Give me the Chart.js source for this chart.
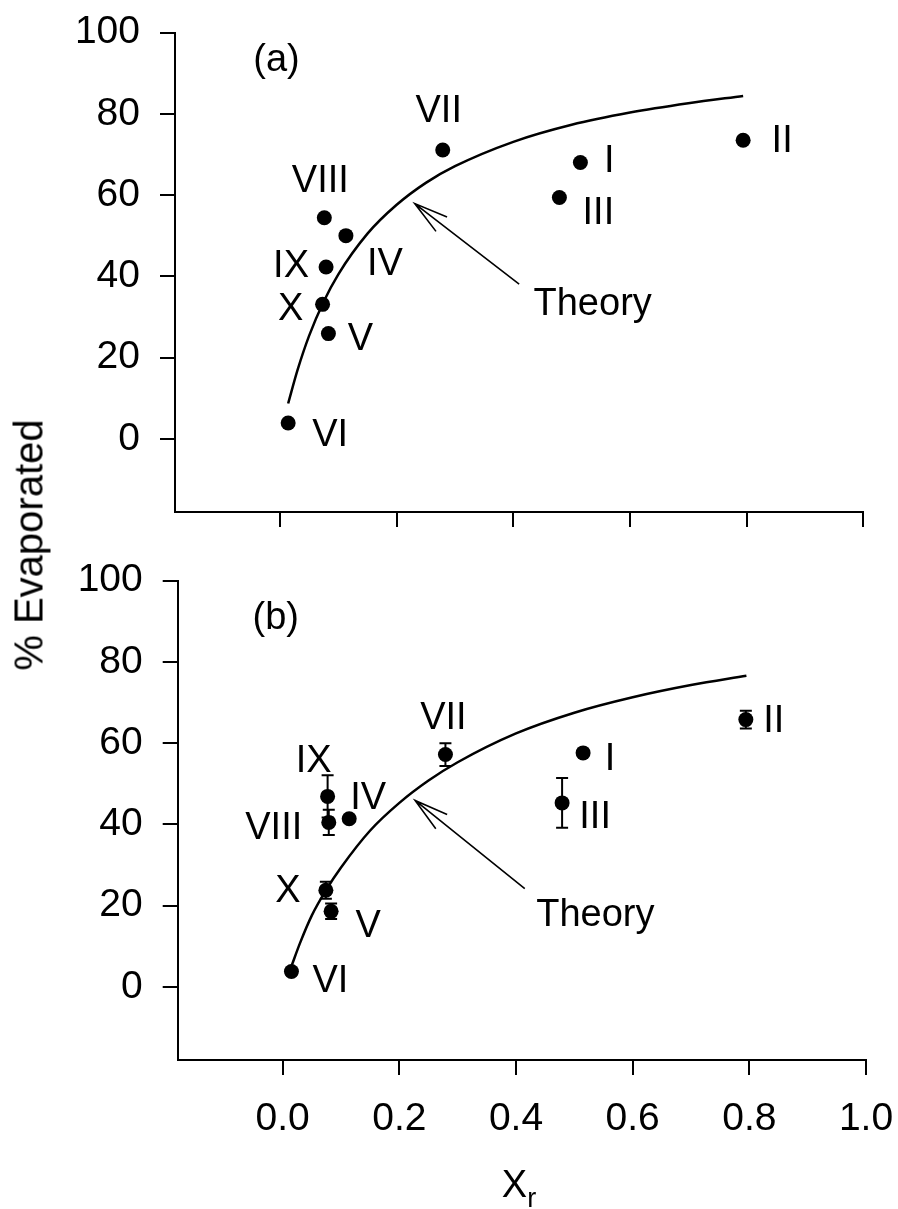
<!DOCTYPE html>
<html>
<head>
<meta charset="utf-8">
<script src="https://cdn.jsdelivr.net/npm/chart.js@4"></script>
<style>
  body { margin: 0; background: #fff; }
  #wrap { position: relative; width: 898px; height: 1209px; background: #fff; }
  canvas { position: absolute; left: 0; }
  #ytitle {
    position: absolute; left: 29px; top: 545px;
    transform: translate(-50%, -50%) rotate(-90deg);
    font: 40px "Liberation Sans", Arial, sans-serif;
    white-space: nowrap; color: #000;
  }
</style>
</head>
<body>
<div id="wrap">
  <canvas id="panelA" width="898" height="540" style="top:0"></canvas>
  <canvas id="panelB" width="898" height="669" style="top:540px"></canvas>
  <div id="ytitle">% Evaporated</div>
</div>
<script>
const FONT = '"Liberation Sans", Arial, sans-serif';

const samples = ['I', 'II', 'III', 'IV', 'V', 'VI', 'VII', 'VIII', 'IX', 'X'];

// (a)
const xrA = [0.515, 0.794, 0.479, 0.113, 0.083, 0.014, 0.279, 0.076, 0.079, 0.073];
const evapA = [68.0, 73.5, 59.4, 50.0, 25.9, 3.9, 71.1, 54.4, 42.3, 33.1];
const theoryXA = [0.014, 0.03, 0.05, 0.075, 0.1, 0.15, 0.2, 0.25, 0.3, 0.4, 0.5, 0.6, 0.7, 0.794];
const theoryYA = [8.7, 16.9, 25.4, 33.8, 40.5, 50.5, 57.6, 63.0, 67.1, 73.1, 77.3, 80.3, 82.6, 84.4];

// (b)
const xrB = [0.515, 0.794, 0.479, 0.114, 0.083, 0.015, 0.279, 0.079, 0.077, 0.074];
const evapB = [57.6, 65.8, 45.3, 41.4, 18.6, 3.8, 57.2, 40.5, 46.9, 23.8];
const errB = [0.8, 2.2, 6.1, 0.8, 1.9, 0.8, 2.8, 3.1, 5.2, 2.1];
const theoryXB = [0.015, 0.03, 0.05, 0.075, 0.1, 0.15, 0.2, 0.25, 0.3, 0.4, 0.5, 0.6, 0.7, 0.795];
const theoryYB = [5.1, 10.9, 17.6, 24.0, 29.4, 38.5, 45.3, 50.8, 55.3, 62.4, 67.5, 71.3, 74.3, 76.6];

const xTicks = [0, 0.2, 0.4, 0.6, 0.8, 1.0];
const yTicks = [0, 20, 40, 60, 80, 100];

// label placement around each dot, in pixels (dx, dy of the text centre)
const labelOffsetA = [[29, -4], [39, -2], [39, 13], [39, 26], [32, 3], [42, 9], [-4, -42], [-4, -39], [-35, -4], [-32, 2]];
const labelOffsetB = [[27, 3], [28, -1], [33, 12], [19, -23], [37, 12], [39, 7], [-2, -39], [-55, 3], [-14, -38], [-38, -2]];

const labelSize = 38;

function drawText(ctx, text, x, capCentreY, size) {
  ctx.font = `${size}px ${FONT}`;
  ctx.fillText(text, x, capCentreY + size * 0.716 / 2);
}

function annotations(cfg) {
  return {
    id: 'annotations',
    beforeDatasetsDraw(chart) {
      if (!cfg.err) return;
      const { ctx, scales: { x, y } } = chart;
      ctx.save();
      ctx.strokeStyle = '#000';
      ctx.lineWidth = 2;
      cfg.xs.forEach((v, i) => {
        const px = x.getPixelForValue(v);
        const top = y.getPixelForValue(cfg.ys[i] + cfg.err[i]);
        const bot = y.getPixelForValue(cfg.ys[i] - cfg.err[i]);
        ctx.beginPath();
        ctx.moveTo(px, top); ctx.lineTo(px, bot);
        ctx.moveTo(px - 6, top); ctx.lineTo(px + 6, top);
        ctx.moveTo(px - 6, bot); ctx.lineTo(px + 6, bot);
        ctx.stroke();
      });
      ctx.restore();
    },
    afterDatasetsDraw(chart) {
      const { ctx, scales: { x, y } } = chart;
      ctx.save();
      ctx.fillStyle = '#000';
      ctx.strokeStyle = '#000';
      ctx.textAlign = 'center';
      ctx.textBaseline = 'alphabetic';

      cfg.xs.forEach((v, i) => {
        const px = x.getPixelForValue(v) + cfg.offsets[i][0];
        const py = y.getPixelForValue(cfg.ys[i]) + cfg.offsets[i][1];
        drawText(ctx, samples[i], px, py, labelSize);
      });

      // panel tag
      ctx.font = `${labelSize}px ${FONT}`;
      ctx.fillText(cfg.tag, x.getPixelForValue(cfg.tagAt[0]), y.getPixelForValue(cfg.tagAt[1]));

      // arrow pointing at the theory curve
      const hx = x.getPixelForValue(cfg.arrowHead[0]), hy = y.getPixelForValue(cfg.arrowHead[1]);
      const tx = x.getPixelForValue(cfg.arrowTail[0]), ty = y.getPixelForValue(cfg.arrowTail[1]);
      const ang = Math.atan2(ty - hy, tx - hx);
      const spread = 15 * Math.PI / 180;
      ctx.lineWidth = 1.6;
      ctx.beginPath();
      ctx.moveTo(tx, ty); ctx.lineTo(hx, hy);
      ctx.moveTo(hx + 35 * Math.cos(ang - spread), hy + 35 * Math.sin(ang - spread));
      ctx.lineTo(hx, hy);
      ctx.lineTo(hx + 35 * Math.cos(ang + spread), hy + 35 * Math.sin(ang + spread));
      ctx.stroke();
      ctx.fillText('Theory', x.getPixelForValue(cfg.theoryAt[0]), y.getPixelForValue(cfg.theoryAt[1]));

      if (cfg.xTitle) {
        const cx = (chart.chartArea.left + chart.chartArea.right) / 2 - 20;
        ctx.textAlign = 'left';
        ctx.font = `${labelSize}px ${FONT}`;
        ctx.fillText('X', cx, 657);
        const w = ctx.measureText('X').width;
        ctx.font = `27px ${FONT}`;
        ctx.fillText('r', cx + w, 667);
      }
      ctx.restore();
    }
  };
}

function axisStyle() {
  return {
    grid: { drawOnChartArea: false, drawTicks: true, tickLength: 15, color: '#000', lineWidth: 2 },
    border: { display: true, color: '#000', width: 2 }
  };
}

function makePanel(canvasId, p) {
  const points = p.xs.map((v, i) => ({ x: v, y: p.ys[i] }));
  const theory = p.theoryX.map((v, i) => ({ x: v, y: p.theoryY[i] }));

  return new Chart(document.getElementById(canvasId), {
    type: 'scatter',
    data: {
      datasets: [
        {
          data: points,
          pointRadius: 7.5,
          pointHoverRadius: 7.5,
          backgroundColor: '#000',
          borderWidth: 0
        },
        {
          data: theory,
          showLine: true,
          pointRadius: 0,
          borderColor: '#000',
          borderWidth: 2.5,
          cubicInterpolationMode: 'monotone'
        }
      ]
    },
    options: {
      responsive: false,
      animation: false,
      layout: { padding: p.padding, autoPadding: false },
      plugins: { legend: { display: false }, tooltip: { enabled: false } },
      scales: {
        x: {
          type: 'linear',
          min: -0.18,
          max: 1.0,
          ...axisStyle(),
          afterBuildTicks: axis => { axis.ticks = xTicks.map(v => ({ value: v })); },
          afterFit: axis => { axis.height = p.xAxisHeight; },
          ticks: {
            display: p.xLabels,
            padding: 4,
            color: '#000',
            // tall line box keeps the labels well below the tick marks
            font: { family: FONT, size: 39, lineHeight: 2.07 },
            maxRotation: 0,
            callback: v => v.toFixed(1)
          }
        },
        y: {
          type: 'linear',
          min: -18,
          max: 100,
          ...axisStyle(),
          afterBuildTicks: axis => { axis.ticks = yTicks.map(v => ({ value: v })); },
          afterFit: axis => { axis.width = p.yAxisWidth; },
          ticks: {
            padding: 20,
            color: '#000',
            font: { family: FONT, size: 39, lineHeight: 0.3 },
            callback: v => String(v)
          }
        }
      }
    },
    plugins: [annotations(p)]
  });
}

makePanel('panelA', {
  xs: xrA, ys: evapA, offsets: labelOffsetA,
  theoryX: theoryXA, theoryY: theoryYA,
  tag: '(a)', tagAt: [-0.006, 90.5],
  arrowHead: [0.231, 57.9], arrowTail: [0.410, 38.1], theoryAt: [0.536, 30.4],
  padding: { top: 32.5, right: 34.7, bottom: 0, left: 0 },
  yAxisWidth: 175, xAxisHeight: 28, xLabels: false
});

makePanel('panelB', {
  xs: xrB, ys: evapB, err: errB, offsets: labelOffsetB,
  theoryX: theoryXB, theoryY: theoryYB,
  tag: '(b)', tagAt: [-0.012, 88.0],
  arrowHead: [0.227, 45.9], arrowTail: [0.415, 24.2], theoryAt: [0.536, 14.9],
  padding: { top: 40.7, right: 32, bottom: 0, left: 0 },
  yAxisWidth: 177.7, xAxisHeight: 149, xLabels: true, xTitle: true
});
</script>
</body>
</html>
